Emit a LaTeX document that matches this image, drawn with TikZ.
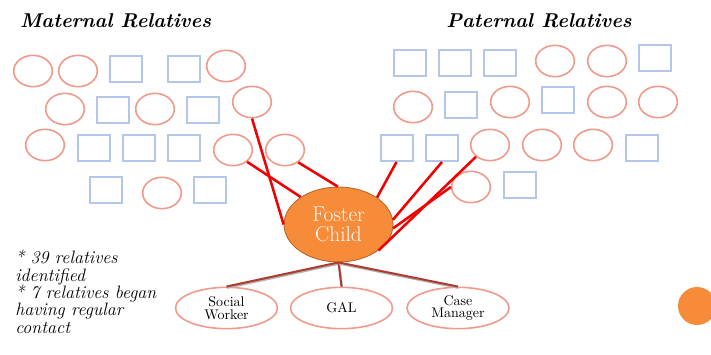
\documentclass[tikz,border=0pt]{standalone}
\usetikzlibrary{shapes.geometric}
\definecolor{fcol}{HTML}{F09A8C}
\definecolor{mcol}{HTML}{B4C7EB}
\definecolor{orng}{HTML}{F68B39}
\definecolor{orngd}{HTML}{B5622A}
\definecolor{redl}{HTML}{F00000}
\definecolor{brl}{HTML}{B03A2E}
\begin{document}
\begin{tikzpicture}[x=0.75pt,y=-0.75pt,
  fem/.style={ellipse,draw=fcol,line width=1.2pt,minimum width=29pt,minimum height=23.5pt,inner sep=0pt},
  mal/.style={rectangle,draw=mcol,line width=1.5pt,minimum width=24pt,minimum height=19.5pt,inner sep=0pt},
  child/.style={ellipse,fill=orng,draw=orngd,line width=0.6pt,minimum width=81.75pt,minimum height=56.25pt,inner sep=0pt,text=white,align=center,font=\fontsize{16}{14.5}\selectfont},
  role/.style={ellipse,draw=fcol,line width=1.2pt,minimum width=76.5pt,minimum height=31pt,inner sep=0pt,align=center,font=\fontsize{10.5}{9.5}\selectfont},
  contact/.style={draw=redl,line width=1.9pt},
  team/.style={draw=brl,line width=1.5pt,preaction={draw=gray!60,line width=1.5pt,transform canvas={shift={(0.5pt,-1pt)}}}},
  title/.style={font=\fontsize{15}{17}\selectfont\bfseries\itshape},
  note/.style={font=\fontsize{13.5}{13}\selectfont\itshape,align=left}]
\useasboundingbox (0,0) rectangle (711,354);
% titles
\node[title] (tm) at (115.5,21) {Maternal Relatives};
\node[title] (tp) at (539,21) {Paternal Relatives};
% maternal
\node[fem] (m1) at (33,71) {};
\node[fem] (m2) at (78,71) {};
\node[mal] (m3) at (126,69) {};
\node[mal] (m4) at (184,69) {};
\node[fem] (m5) at (226,66) {};
\node[fem] (m6) at (65,109) {};
\node[mal] (m7) at (113,110) {};
\node[fem] (m8) at (155,109) {};
\node[mal] (m9) at (203,110) {};
\node[fem] (m10) at (252,102) {};
\node[fem] (m11) at (45,145) {};
\node[mal] (m12) at (94,148) {};
\node[mal] (m13) at (139,148) {};
\node[mal] (m14) at (184,148) {};
\node[fem] (m15) at (233,150) {};
\node[fem] (m16) at (285,150) {};
\node[mal] (m17) at (106,190) {};
\node[fem] (m18) at (162,193) {};
\node[mal] (m19) at (210,190) {};
% paternal
\node[mal] (p1) at (409.5,63) {};
\node[mal] (p2) at (454.5,63) {};
\node[mal] (p3) at (500,63) {};
\node[fem] (p4) at (555,61) {};
\node[fem] (p5) at (607,61) {};
\node[mal] (p6) at (654.5,58) {};
\node[fem] (p7) at (413,107) {};
\node[mal] (p8) at (461,105) {};
\node[fem] (p9) at (510,102) {};
\node[mal] (p10) at (557.5,100) {};
\node[fem] (p11) at (607,102) {};
\node[fem] (p12) at (658,102) {};
\node[mal] (p13) at (396.5,148) {};
\node[mal] (p14) at (442,148) {};
\node[fem] (p15) at (490,145) {};
\node[fem] (p16) at (542,145) {};
\node[fem] (p17) at (593,145) {};
\node[mal] (p18) at (641.5,148) {};
\node[fem] (p19) at (471,187) {};
\node[mal] (p20) at (519.5,184.5) {};
% foster child
\node[child] (fc) at (338.5,224.5) {Foster\\Child};
% contact lines
\draw[contact] (m10.south) -- (fc.180);
\draw[contact] (m15.-40) -- (fc.144);
\draw[contact] (m16.-43) -- (fc.91);
\draw[contact] (p13.south) -- (fc.35);
\draw[contact] (p14.south) -- (fc.5);
\draw[contact] (p19.west) -- (fc.-4);
\draw[contact] (p15.-140) -- (fc.-33);
% team
\node[role] (sw) at (226.5,308) {Social\\Worker};
\node[role] (gal) at (341.5,308) {GAL};
\node[role] (cm) at (458,308) {Case\\Manager};
\draw[team] (fc.south) -- (sw.north);
\draw[team] (fc.south) -- (gal.north);
\draw[team] (fc.south) -- (cm.north);
% note
\node[note,anchor=north west,inner sep=0pt] (nt) at (15,250) {* 39 relatives\\identified\\* 7 relatives began\\having regular\\contact};
% right orange dot
\node[circle,fill=orng,minimum size=28.5pt,inner sep=0pt] (dot) at (697,306) {};
\end{tikzpicture}
\end{document}
